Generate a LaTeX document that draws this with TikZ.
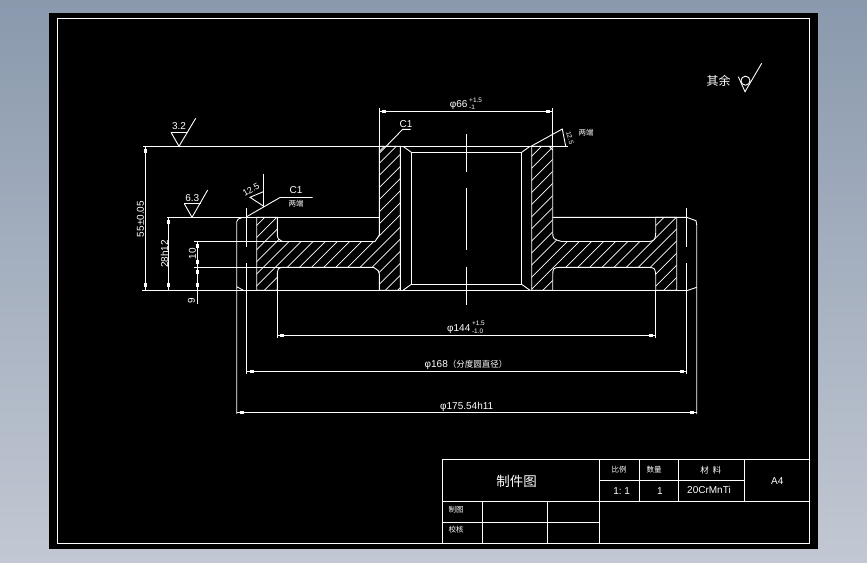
\documentclass[tikz,border=0pt]{standalone}
\usepackage{fontspec}
\setmainfont{Liberation Sans}
\newfontfamily\cjk{Noto Sans CJK SC}
\usetikzlibrary{calc}
\definecolor{bgtop}{HTML}{8A99AD}
\definecolor{bgbottom}{HTML}{C2C8D3}
\tikzset{
    cad/.style = {draw=white, line width=0.9pt},
    hatch/.style = {draw=white, line width=0.7pt},
    label/.style = {text=white, inner sep=0pt, font=\fontsize{10}{10}\selectfont},
    small/.style = {text=white, inner sep=0pt, font=\cjk\fontsize{7.5}{8}\selectfont},
    tickbox/.style = {fill=white, inner sep=0pt, minimum width=4pt, minimum height=3pt}
}
\newcommand{\tolstack}[2]{\raisebox{-2pt}{\fontsize{6.5}{6.5}\selectfont\shortstack[l]{#1\\#2}}}
\newcommand{\sectionpath}{(256.7,217.3) -- (277.3,217.3) -- (277.3,235) .. controls (278,239) .. (282.5,241.5) -- (375,241.5) -- (379.3,235) -- (379.3,146.3) -- (400.3,146.3) -- (400.3,290.3) -- (379.3,290.3) -- (379.3,274) .. controls (379,271) .. (373.5,267.3) -- (283,267.3) .. controls (278,268) .. (277.3,274) -- (277.3,290.3) -- (256.7,290.3) -- cycle
 (531.7,146.3) -- (552.7,146.3) -- (552.7,233) .. controls (553,239) .. (561.7,241.5) -- (650,241.5) .. controls (655,240) .. (655.7,233) -- (655.7,217.3) -- (676.7,217.3) -- (676.7,290.3) -- (655.7,290.3) -- (655.7,275) .. controls (655,268) .. (648.3,267.3) -- (560,267.3) .. controls (553,268) .. (552.7,275) -- (552.7,290.3) -- (531.7,290.3) -- cycle}
\begin{document}
\begin{tikzpicture}[x=1pt,y=-1pt]
        \useasboundingbox (0,0) rectangle (867,562);
        \shade[top color=bgtop, bottom color=bgbottom] (0,0) rectangle (867,562);
        \fill[black] (49,12.7) rectangle (817.7,548.7);
        \draw[cad] (57.3,18.3) rectangle (809.5,543.7);
        % section
        \begin{scope}
            \clip \sectionpath;
            \foreach \k in {0,...,42} {
                \draw[hatch] ({170+12.1*\k},300) -- ++(170,-170);
            }
        \end{scope}
        \draw[cad] \sectionpath;
        % bore
        \draw[cad] (411.3,152.3) rectangle (521.7,284.3);
        \draw[cad] (403,146.3) -- (411.3,152.3);
        \draw[cad] (530,146.3) -- (521.7,152.3);
        \draw[cad] (403,290.3) -- (411.3,284.3);
        \draw[cad] (530,290.3) -- (521.7,284.3);
        \draw[cad] (549,146.3) -- (552.7,150);
        % flange and extension lines
        \draw[cad] (143,146.3) -- (568,146.3);
        \draw[cad] (142,290.3) -- (688,290.3);
        \draw[cad] (167,217.3) -- (379.3,217.3);
        \draw[cad] (552.7,217.3) -- (686.7,217.3) -- (696,220.7) -- (696.7,225) -- (696.7,414);
        \draw[cad] (243,217.3) -- (238.3,219) -- (236.7,221.7) -- (236.7,414);
        \draw[cad] (236.7,286.7) -- (243.3,290.3);
        \draw[cad] (696.7,287.3) -- (688,290.3);
        \draw[cad] (194,241.5) -- (282.5,241.5);
        \draw[cad] (194,267.3) -- (283,267.3);
        \draw[cad] (277.3,290.3) -- (277.3,337.5);
        \draw[cad] (655.7,290.3) -- (655.7,337.5);
        \draw[cad] (379.3,108) -- (379.3,146.3);
        \draw[cad] (552.7,108) -- (552.7,146.3);
        % centre lines
        \foreach \xc in {246.7,686.7} {
            \draw[cad] (\xc,208) -- (\xc,246.7);
            \draw[cad] (\xc,263) -- (\xc,374);
        }
        \draw[cad] (466.7,134) -- (466.7,171.7);
        \draw[cad] (466.7,188.3) -- (466.7,250);
        \draw[cad] (466.7,266.7) -- (466.7,305);
        % dimensions
        \foreach \xa/\xb/\yd in {379.3/552.7/111.3, 277.3/655.7/335.3, 246.7/686.7/371.3, 236.7/696.7/412.3} {
            \draw[cad] (\xa,\yd) -- (\xb,\yd);
            \node[tickbox] at ({\xa+5},\yd) {};
            \node[tickbox] at ({\xb-5},\yd) {};
        }
        \foreach \ya/\yb/\xd in {146.3/290.3/145.3, 217.3/290.3/168.7} {
            \draw[cad] (\xd,\ya) -- (\xd,\yb);
            \node[tickbox, minimum width=3pt, minimum height=4pt] at (\xd,{\ya+5}) {};
            \node[tickbox, minimum width=3pt, minimum height=4pt] at (\xd,{\yb-5}) {};
        }
        \draw[cad] (197,241.5) -- (197,304);
        \foreach \yt in {246,262,272,285} {
            \node[tickbox, minimum width=3pt, minimum height=4pt] at (197,\yt) {};
        }
        \node[label] (d66) at (466,104) {φ66\,\tolstack{+1.5}{-1}};
        \node[label] (d144) at (466,327.5) {φ144\,\tolstack{+1.5}{-1.0}};
        \node[label] (d168) at (466,364.5) {φ168{\cjk\fontsize{8.5}{9}\selectfont（分度圆直径）}};
        \node[label] (d175) at (466.7,407) {φ175.54h11};
        \node[label, rotate=90] (h55) at (140.5,219) {55±0.05};
        \node[label, rotate=90] (h28) at (164.5,254) {28h12};
        \node[label, rotate=90] (h10) at (192.5,253.5) {10};
        \node[label, rotate=90] (h9) at (191.5,301) {9};
        % roughness marks
        \draw[cad] (171,132.3) -- (187.3,132.3);
        \draw[cad] (171,132.3) -- (179,146.3) -- (195.7,118.3);
        \node[label] (r32) at (179,126) {3.2};
        \draw[cad] (184.3,203.7) -- (200.7,203.7);
        \draw[cad] (184.3,203.7) -- (192,217.3) -- (207.7,190);
        \node[label] (r63) at (192.3,198.5) {6.3};
        \draw[cad] (263.3,174) -- (263.3,206.7);
        \draw[cad] (263.3,191.7) -- (250,197.3) -- (263.3,206);
        \node[label, rotate=30, font=\fontsize{9}{9}\selectfont] (r125) at (251,189.5) {12.5};
        \draw[cad] (246.7,216.7) -- (280,197.5) -- (312.7,197.5);
        \node[label] (c1a) at (296,190) {C1};
        \node[small] (both1) at (296,203.5) {两端};
        \draw[cad] (379.3,153.3) -- (402.7,129.3) -- (410.7,129.3);
        \node[label] (c1b) at (406,124) {C1};
        \draw[cad] (531,146.3) -- (562.3,129) -- (565.7,146.3);
        \node[label, rotate=-75, font=\fontsize{6.5}{6.5}\selectfont] (r125b) at (570,138) {12.5};
        \node[small] (both2) at (586,133) {两端};
        \draw[cad] (738.3,76.7) -- (745,91.7) -- (761.7,63.3);
        \draw[cad] (745.5,80.7) circle (4.5);
        \node[label, font=\cjk\fontsize{12}{12}\selectfont] (rest) at (718.5,80.7) {其余};
        % title block
        \draw[cad] (442.3,459.3) rectangle (809.3,543.7);
        \draw[cad] (442.3,501.3) -- (809.3,501.3);
        \draw[cad] (442.3,522.3) -- (599.3,522.3);
        \draw[cad] (599.3,480.3) -- (744.7,480.3);
        \draw[cad] (599.3,459.3) -- (599.3,543.7);
        \foreach \xv in {639.3,678.7,744.7} {
            \draw[cad] (\xv,459.3) -- (\xv,501.3);
        }
        \foreach \xv in {482.7,547.7} {
            \draw[cad] (\xv,501.3) -- (\xv,543.7);
        }
        \node[label, font=\cjk\fontsize{13.5}{14}\selectfont] (title) at (516.7,481) {制件图};
        \node[small] (scale) at (619,470) {比例};
        \node[small] (qty) at (654,469.5) {数量};
        \node[small, font=\cjk\fontsize{8.5}{9}\selectfont] (mat) at (710.7,470) {材\ \ 料};
        \node[label] (sheet) at (777.3,481) {A4};
        \node[label] (scaleval) at (621.7,491) {1:\ 1};
        \node[label] (qtyval) at (660,491) {1};
        \node[label] (matval) at (709,490) {20CrMnTi};
        \node[small] (drawn) at (456,510) {制图};
        \node[small] (check) at (456,530) {校核};
\end{tikzpicture}
\end{document}
